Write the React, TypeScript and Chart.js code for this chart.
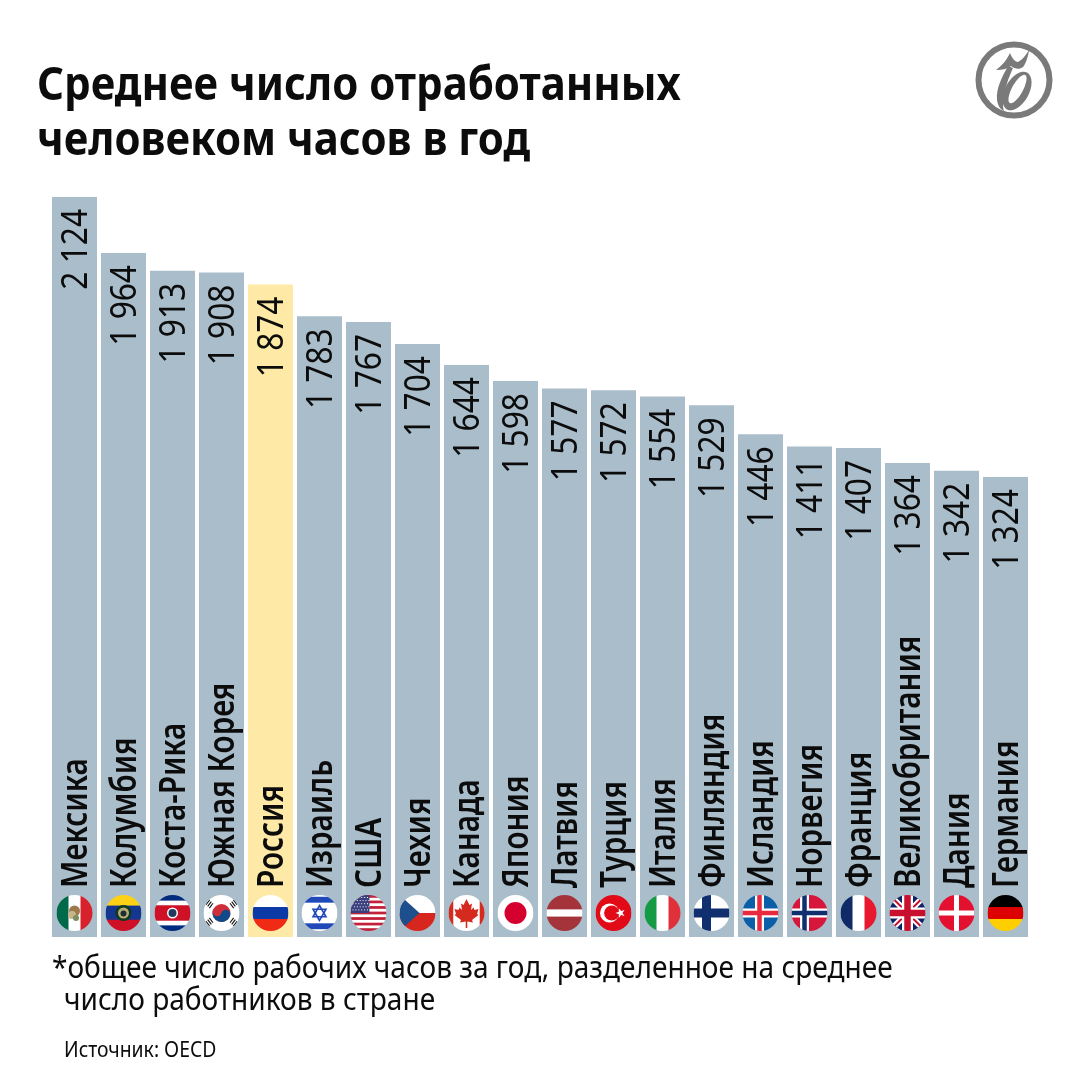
import React, { useEffect, useRef } from 'react';
import Chart from 'chart.js/auto';

const countries = ['Мексика', 'Колумбия', 'Коста-Рика', 'Южная Корея', 'Россия', 'Израиль', 'США', 'Чехия', 'Канада', 'Япония', 'Латвия', 'Турция', 'Италия', 'Финляндия', 'Исландия', 'Норвегия', 'Франция', 'Великобритания', 'Дания', 'Германия'];
const hours = [2124, 1964, 1913, 1908, 1874, 1783, 1767, 1704, 1644, 1598, 1577, 1572, 1554, 1529, 1446, 1411, 1407, 1364, 1342, 1324];
const flagCodes = ['mx', 'co', 'cr', 'kr', 'ru', 'il', 'us', 'cz', 'ca', 'jp', 'lv', 'tr', 'it', 'fi', 'is', 'no', 'fr', 'gb', 'dk', 'de'];
const highlighted = 'Россия';
const titleLines = ['Среднее число отработанных', 'человеком часов в год'];
const noteLines = ['*общее число рабочих часов за год, разделенное на среднее', 'число работников в стране'];
const sourceText = 'Источник: OECD';

const BAR = '#a9bdca';
const BAR_HI = '#ffe9a6';
const INK = '#0c0c0c';
const FLAG_R = 18;
type Ctx = CanvasRenderingContext2D;

// horizontal stripes, top to bottom, sized by weight
const hStripes = (ctx: Ctx, cols: string[], weights?: number[]) => {
    const w = weights || cols.map(() => 1);
    const sum = w.reduce((a, b) => a + b, 0);
    let y = -FLAG_R;
    cols.forEach((c, i) => {
        const h = (w[i] / sum) * FLAG_R * 2;
        ctx.fillStyle = c;
        ctx.fillRect(-FLAG_R, y, FLAG_R * 2, h + 0.5);
        y += h;
    });
};

const vStripes = (ctx: Ctx, cols: string[], weights?: number[]) => {
    const w = weights || cols.map(() => 1);
    const sum = w.reduce((a, b) => a + b, 0);
    let x = -FLAG_R;
    cols.forEach((c, i) => {
        const d = (w[i] / sum) * FLAG_R * 2;
        ctx.fillStyle = c;
        ctx.fillRect(x, -FLAG_R, d + 0.5, FLAG_R * 2);
        x += d;
    });
};

const cross = (ctx: Ctx, col: string, x: number, t: number) => {
    ctx.fillStyle = col;
    ctx.fillRect(x - t / 2, -FLAG_R, t, FLAG_R * 2);
    ctx.fillRect(-FLAG_R, -t / 2, FLAG_R * 2, t);
};

const dot = (ctx: Ctx, col: string, x: number, y: number, r: number) => {
    ctx.fillStyle = col;
    ctx.beginPath();
    ctx.arc(x, y, r, 0, Math.PI * 2);
    ctx.fill();
};

const star = (ctx: Ctx, col: string, x: number, y: number, r: number, rot = -Math.PI / 2) => {
    ctx.fillStyle = col;
    ctx.beginPath();
    for (let i = 0; i < 10; i++) {
        const a = rot + (i * Math.PI) / 5;
        const rr = i % 2 ? r * 0.4 : r;
        ctx.lineTo(x + Math.cos(a) * rr, y + Math.sin(a) * rr);
    }
    ctx.closePath();
    ctx.fill();
};

const flagPainters: Record<string, (ctx: Ctx) => void> = {
    mx: (ctx) => {
        vStripes(ctx, ['#00694a', '#ffffff', '#d7222e']);
        dot(ctx, '#9c7a4c', 0, -2, 5.5);
        dot(ctx, '#c9b48c', -2.5, 2, 4);
        dot(ctx, '#7d8f5f', 1.5, 5, 3);
    },
    co: (ctx) => {
        hStripes(ctx, ['#fcd116', '#14368f', '#ce1126'], [3, 4, 3.2]);
        dot(ctx, '#0d3b22', 0, 0, 8);
        dot(ctx, '#b9ad70', 0, 0, 5.5);
        dot(ctx, '#1f2c3a', 0, 0.5, 3);
    },
    cr: (ctx) => {
        hStripes(ctx, ['#002b7f', '#ffffff', '#ce1126', '#ffffff', '#002b7f'], [1.2, 1, 3.3, 1, 1.2]);
        dot(ctx, '#ffffff', 0, 0, 5.5);
        dot(ctx, '#1e3a5c', 0, 0, 4);
    },
    kr: (ctx) => {
        hStripes(ctx, ['#ffffff']);
        dot(ctx, '#cd2e3a', 0, 0, 9);
        ctx.fillStyle = '#0f4a8a';
        ctx.beginPath();
        ctx.arc(0, 0, 9, 0.3, Math.PI + 0.3);
        ctx.fill();
        dot(ctx, '#cd2e3a', -4.3, -1.3, 4.5);
        dot(ctx, '#0f4a8a', 4.3, 1.3, 4.5);
        ctx.strokeStyle = '#111';
        ctx.lineWidth = 1.1;
        [[-12, -9, 1], [12, -9, -1], [-12, 9, -1], [12, 9, 1]].forEach(([x, y, s]) => {
            [-2.4, 0, 2.4].forEach((o) => {
                ctx.beginPath();
                ctx.moveTo(x + o * 0.7 - 3 * 0.6, y + o * 0.7 * s + 3 * 0.8 * s);
                ctx.lineTo(x + o * 0.7 + 3 * 0.6, y + o * 0.7 * s - 3 * 0.8 * s);
                ctx.stroke();
            });
        });
    },
    ru: (ctx) => hStripes(ctx, ['#ffffff', '#0b39a6', '#ef2b16']),
    il: (ctx) => {
        hStripes(ctx, ['#ffffff', '#1f49b8', '#ffffff', '#1f49b8', '#ffffff'], [1.2, 4, 14, 4, 1.2]);
        ctx.strokeStyle = '#1f49b8';
        ctx.lineWidth = 1.6;
        [-Math.PI / 2, Math.PI / 2].forEach((rot) => {
            ctx.beginPath();
            for (let i = 0; i < 3; i++) {
                const a = rot + (i * 2 * Math.PI) / 3;
                ctx.lineTo(Math.cos(a) * 7.5, Math.sin(a) * 7.5);
            }
            ctx.closePath();
            ctx.stroke();
        });
    },
    us: (ctx) => {
        const cols: string[] = [];
        for (let i = 0; i < 13; i++) cols.push(i % 2 ? '#ffffff' : '#c3213a');
        hStripes(ctx, cols);
        ctx.fillStyle = '#3a3f7d';
        ctx.fillRect(-FLAG_R, -FLAG_R, FLAG_R * 1.05, FLAG_R);
        ctx.fillStyle = '#ffffff';
        for (let r = 0; r < 5; r++) {
            for (let c = 0; c < 6; c++) {
                ctx.fillRect(-16 + c * 2.9 + (r % 2) * 1.4, -16 + r * 3.1, 1, 1);
            }
        }
    },
    cz: (ctx) => {
        hStripes(ctx, ['#ffffff', '#d7261e']);
        ctx.fillStyle = '#1d4f8c';
        ctx.beginPath();
        ctx.moveTo(-FLAG_R, -FLAG_R);
        ctx.lineTo(2, 0);
        ctx.lineTo(-FLAG_R, FLAG_R);
        ctx.closePath();
        ctx.fill();
    },
    ca: (ctx) => {
        vStripes(ctx, ['#d52b1e', '#ffffff', '#d52b1e'], [1, 5.5, 1]);
        ctx.fillStyle = '#d52b1e';
        const leaf = [[0, -14], [3, -8], [5.5, -9.5], [4.5, -3], [7, -5.5], [8, -3], [12, -4], [10.5, 1], [12, 2], [5.5, 7], [6.5, 9.5], [0.8, 8.5], [0.8, 15], [-0.8, 15], [-0.8, 8.5], [-6.5, 9.5], [-5.5, 7], [-12, 2], [-10.5, 1], [-12, -4], [-8, -3], [-7, -5.5], [-4.5, -3], [-5.5, -9.5], [-3, -8]];
        ctx.beginPath();
        leaf.forEach(([x, y]) => ctx.lineTo(x, y));
        ctx.closePath();
        ctx.fill();
    },
    jp: (ctx) => {
        hStripes(ctx, ['#ffffff']);
        dot(ctx, '#d6002f', 0, 0, 11);
    },
    lv: (ctx) => hStripes(ctx, ['#a4343a', '#ffffff', '#a4343a'], [2, 1, 2]),
    tr: (ctx) => {
        hStripes(ctx, ['#e30a17']);
        dot(ctx, '#ffffff', -4, 0, 9.5);
        dot(ctx, '#e30a17', -1.8, 0, 7.6);
        star(ctx, '#ffffff', 7, 0, 5, Math.PI);
    },
    it: (ctx) => vStripes(ctx, ['#169b45', '#ffffff', '#e0303a']),
    fi: (ctx) => {
        hStripes(ctx, ['#ffffff']);
        cross(ctx, '#0f2f6e', -5, 9);
    },
    is: (ctx) => {
        hStripes(ctx, ['#0b5ea8']);
        cross(ctx, '#ffffff', -1, 9);
        cross(ctx, '#e8293f', -1, 4.5);
    },
    no: (ctx) => {
        hStripes(ctx, ['#d6163a']);
        cross(ctx, '#ffffff', -5, 9);
        cross(ctx, '#0f2f6e', -5, 4.5);
    },
    fr: (ctx) => vStripes(ctx, ['#0f2a66', '#ffffff', '#e8182f']),
    gb: (ctx) => {
        hStripes(ctx, ['#0d2266']);
        ctx.strokeStyle = '#ffffff';
        ctx.lineWidth = 6;
        ctx.beginPath();
        ctx.moveTo(-18, -18);
        ctx.lineTo(18, 18);
        ctx.moveTo(18, -18);
        ctx.lineTo(-18, 18);
        ctx.stroke();
        ctx.strokeStyle = '#c8102e';
        ctx.lineWidth = 2;
        ctx.stroke();
        cross(ctx, '#ffffff', 0, 11);
        cross(ctx, '#c8102e', 0, 6.5);
    },
    dk: (ctx) => {
        hStripes(ctx, ['#e3102f']);
        cross(ctx, '#ffffff', 0, 5);
    },
    de: (ctx) => hStripes(ctx, ['#000000', '#dd0000', '#ffce00']),
};

// squeezed text, the reference face is narrower than anything installed
const squeezed = (ctx: Ctx, text: string, x: number, y: number, font: string, sx: number, col: string) => {
    ctx.save();
    ctx.translate(x, y);
    ctx.scale(sx, 1);
    ctx.font = font;
    ctx.fillStyle = col;
    ctx.textAlign = 'left';
    ctx.textBaseline = 'alphabetic';
    ctx.fillText(text, 0, 0);
    ctx.restore();
};

const drawLogo = (ctx: Ctx) => {
    const col = '#7a7a7a';
    ctx.save();
    ctx.translate(1014, 80);
    ctx.strokeStyle = col;
    ctx.lineWidth = 6;
    ctx.beginPath();
    ctx.arc(0, 0, 35.5, 0, Math.PI * 2);
    ctx.stroke();
    ctx.fillStyle = col;
    // top flourish of the letter
    ctx.beginPath();
    ctx.moveTo(-18, -10);
    ctx.bezierCurveTo(-11, -15, -7, -21, -4, -27);
    ctx.bezierCurveTo(-2, -22, 1, -18, 4, -18);
    ctx.bezierCurveTo(8, -20, 12, -25, 15, -30);
    ctx.bezierCurveTo(14, -22, 11, -15, 9, -13);
    ctx.bezierCurveTo(5, -10, 1, -11, -3, -14);
    ctx.bezierCurveTo(-7, -11, -12, -10, -18, -10);
    ctx.closePath();
    ctx.fill();
    // stem
    ctx.beginPath();
    ctx.moveTo(-6, -14);
    ctx.bezierCurveTo(-12, -3, -18, 8, -17, 20);
    ctx.bezierCurveTo(-16, 26, -14, 29, -10, 31);
    ctx.bezierCurveTo(-12, 25, -11, 10, -1, -12);
    ctx.closePath();
    ctx.fill();
    // bowl
    ctx.beginPath();
    ctx.ellipse(3, 11, 12, 21, 0.5, 0, Math.PI * 2);
    ctx.fill();
    ctx.fillStyle = '#ffffff';
    ctx.beginPath();
    ctx.ellipse(3.5, 9, 5.5, 16, 0.5, 0, Math.PI * 2);
    ctx.fill();
    ctx.restore();
};

const decorations = {
    id: 'decorations',
    afterDatasetsDraw(chart: any) {
        const ctx: Ctx = chart.ctx;
        const bars = chart.getDatasetMeta(0).data;

        bars.forEach((bar: any, i: number) => {
            const cx = bar.x;
            // value, rotated, hanging from the top of the bar
            ctx.save();
            ctx.translate(cx + 12.5, bar.y + 12);
            ctx.rotate(-Math.PI / 2);
            const val = hours[i].toString().replace(/(\d)(\d{3})$/, '$1 $2');
            ctx.font = '36px "Noto Sans"';
            const w = ctx.measureText(val).width * 0.88;
            squeezed(ctx, val, -w, 0, '36px "Noto Sans"', 0.88, INK);
            ctx.restore();

            // country name, rotated, from a fixed line above the flag
            ctx.save();
            ctx.translate(cx + 12.5, 888);
            ctx.rotate(-Math.PI / 2);
            squeezed(ctx, countries[i], 0, 0, '600 36px "Noto Sans"', 0.823, INK);
            ctx.restore();

            // flag
            ctx.save();
            ctx.translate(cx, 913);
            ctx.beginPath();
            ctx.arc(0, 0, FLAG_R, 0, Math.PI * 2);
            ctx.clip();
            flagPainters[flagCodes[i]](ctx);
            ctx.restore();
        });

        titleLines.forEach((line, i) => {
            squeezed(ctx, line, 37, 100 + i * 55, '700 47px "Noto Sans"', 0.893, INK);
        });
        noteLines.forEach((line, i) => {
            squeezed(ctx, line, i ? 64 : 52, 978 + i * 32, '31px "Noto Sans"', 0.905, INK);
        });
        squeezed(ctx, sourceText, 64, 1057, '22px "Noto Sans"', 0.88, INK);
        drawLogo(ctx);
    },
};

const App: React.FC = () => {
    const canvasRef = useRef<HTMLCanvasElement | null>(null);

    useEffect(() => {
        if (!canvasRef.current) return;
        const chart = new Chart(canvasRef.current, {
            type: 'bar',
            data: {
                labels: countries,
                datasets: [
                    {
                        data: hours,
                        backgroundColor: countries.map((c) => (c === highlighted ? BAR_HI : BAR)),
                        barPercentage: 45 / 49,
                        categoryPercentage: 1,
                    },
                ],
            },
            options: {
                responsive: false,
                animation: false,
                devicePixelRatio: 1,
                layout: { padding: { left: 50, right: 50, top: 197, bottom: 143 } },
                plugins: { legend: { display: false }, tooltip: { enabled: false } },
                scales: {
                    x: { display: false },
                    y: { display: false, min: 10, max: 2124 },
                },
            },
            plugins: [decorations],
        });
        return () => chart.destroy();
    }, []);

    return (
        <div style={{ position: 'absolute', left: 0, top: 0, width: 1080, height: 1080, background: '#fff' }}>
            <canvas ref={canvasRef} width={1080} height={1080} />
        </div>
    );
};

export default App;
